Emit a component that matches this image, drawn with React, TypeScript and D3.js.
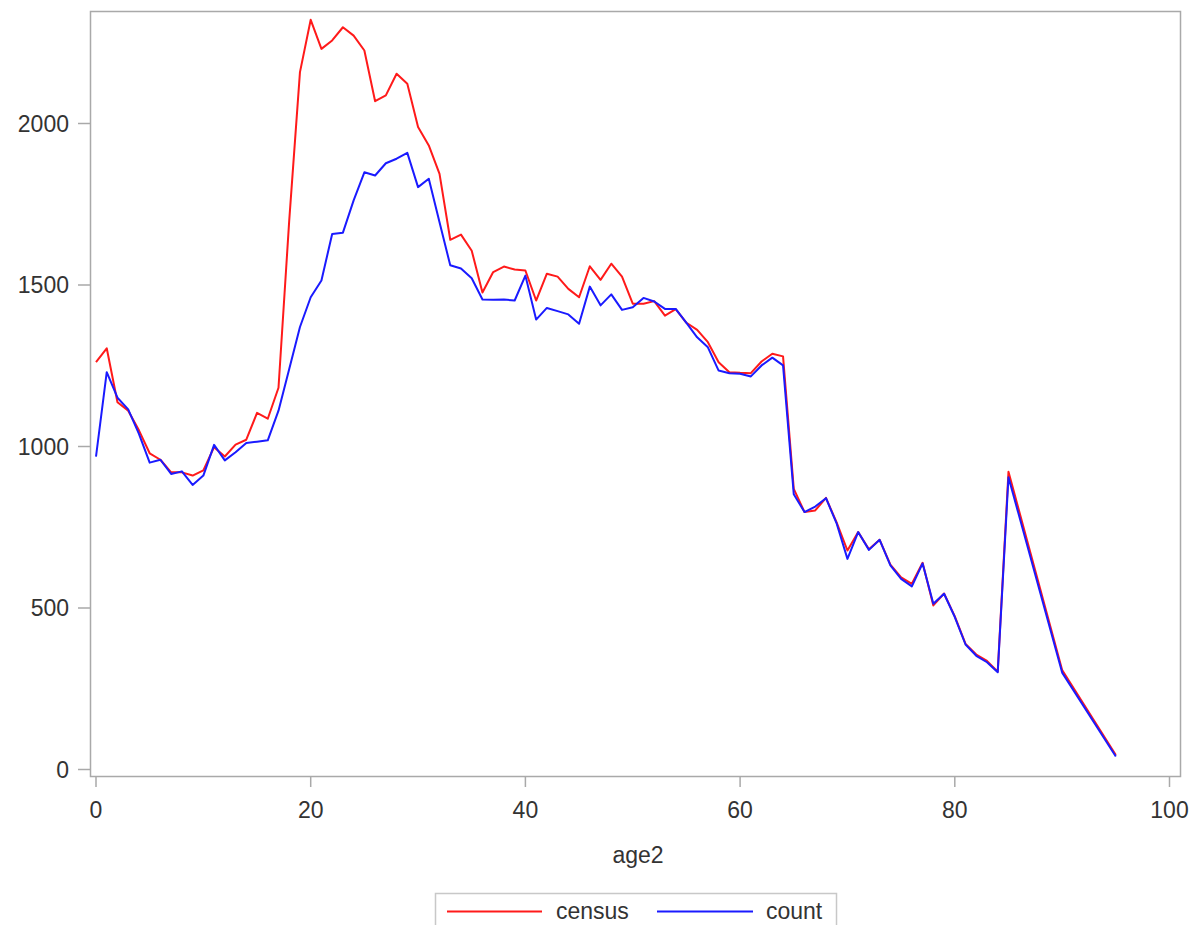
import React from "react";
import * as d3 from "d3";

const ages = [0,1,2,3,4,5,6,7,8,9,10,11,12,13,14,15,16,17,18,19,20,21,22,23,24,25,26,27,28,29,30,31,32,33,34,35,36,37,38,39,40,41,42,43,44,45,46,47,48,49,50,51,52,53,54,55,56,57,58,59,60,61,62,63,64,65,66,67,68,69,70,71,72,73,74,75,76,77,78,79,80,81,82,83,84,85,90,95];

const census = [1261,1304,1137,1111,1050,979,959,920,920,910,926,998,969,1006,1021,1104,1086,1182,1700,2159,2321,2231,2257,2298,2272,2226,2069,2087,2154,2123,1989,1932,1844,1640,1656,1606,1477,1540,1557,1548,1545,1452,1535,1526,1488,1462,1558,1516,1566,1526,1442,1442,1450,1405,1425,1383,1361,1323,1261,1230,1228,1227,1263,1287,1279,869,797,802,841,764,678,735,682,711,634,595,575,640,508,545,474,389,356,336,303,922,308,45];

const count = [969,1230,1151,1115,1039,950,959,915,923,881,910,1005,957,982,1011,1015,1019,1111,1240,1370,1462,1514,1658,1662,1762,1849,1839,1877,1891,1909,1803,1829,1694,1561,1551,1521,1455,1454,1455,1452,1529,1393,1429,1419,1409,1380,1495,1437,1471,1423,1431,1460,1449,1426,1426,1383,1338,1307,1235,1227,1225,1217,1251,1275,1251,852,797,814,840,761,652,735,680,711,632,590,567,638,513,544,472,387,352,332,301,905,300,40];

const xTicks = [0, 20, 40, 60, 80, 100];
const yTicks = [0, 500, 1000, 1500, 2000];
const seriesNames = ["census", "count"];
const seriesColors = ["#ff1a1a", "#1a1aff"];

const W = 1197;
const H = 925;
const frame = { left: 90.5, right: 1180.5, top: 11.5, bottom: 776.5 };
const FONT = "'Liberation Sans', Arial, sans-serif";
const TEXT = "#333333";
const AXIS = "#a9a9a9";

export default function App() {
  const x = d3.scaleLinear().domain([0, 100]).range([96, 1169.5]);
  const y = d3.scaleLinear().domain([0, 2000]).range([769.5, 123.5]);
  const line = d3
    .line<number>()
    .x((_, i) => x(ages[i]))
    .y((v) => y(v));
  const series = [census, count];

  return (
    <svg
      width={W}
      height={H}
      style={{ position: "absolute", left: 0, top: 0, background: "#fff" }}
      fontFamily={FONT}
    >
      <rect x={0} y={0} width={W} height={H} fill="#fff" />
      {/* frame */}
      <rect
        x={frame.left}
        y={frame.top}
        width={frame.right - frame.left}
        height={frame.bottom - frame.top}
        fill="none"
        stroke={AXIS}
        strokeWidth={1.5}
      />
      {/* y axis */}
      {yTicks.map((t) => (
        <g key={"y" + t}>
          <line x1={78} x2={frame.left} y1={y(t)} y2={y(t)} stroke={AXIS} strokeWidth={1.5} />
          <text x={69} y={y(t)} dy="0.36em" textAnchor="end" fontSize={23} fill={TEXT}>
            {t}
          </text>
        </g>
      ))}
      {/* x axis */}
      {xTicks.map((t) => (
        <g key={"x" + t}>
          <line x1={x(t)} x2={x(t)} y1={frame.bottom} y2={787} stroke={AXIS} strokeWidth={1.5} />
          <text x={x(t)} y={818} textAnchor="middle" fontSize={23} fill={TEXT}>
            {t}
          </text>
        </g>
      ))}
      <text x={638} y={863} textAnchor="middle" fontSize={23} fill={TEXT}>
        age2
      </text>
      {/* lines */}
      {series.map((s, i) => (
        <path
          key={seriesNames[i]}
          d={line(s) || ""}
          fill="none"
          stroke={seriesColors[i]}
          strokeWidth={2}
          strokeLinejoin="round"
        />
      ))}
      {/* legend */}
      <rect x={435.5} y={893.5} width={401} height={50} fill="#fff" stroke="#c8c8c8" strokeWidth={1.5} />
      <line x1={447} x2={542} y1={911.5} y2={911.5} stroke={seriesColors[0]} strokeWidth={2} />
      <text x={556} y={919} fontSize={23} fill={TEXT}>{seriesNames[0]}</text>
      <line x1={657} x2={753} y1={911.5} y2={911.5} stroke={seriesColors[1]} strokeWidth={2} />
      <text x={766} y={919} fontSize={23} fill={TEXT}>{seriesNames[1]}</text>
    </svg>
  );
}
